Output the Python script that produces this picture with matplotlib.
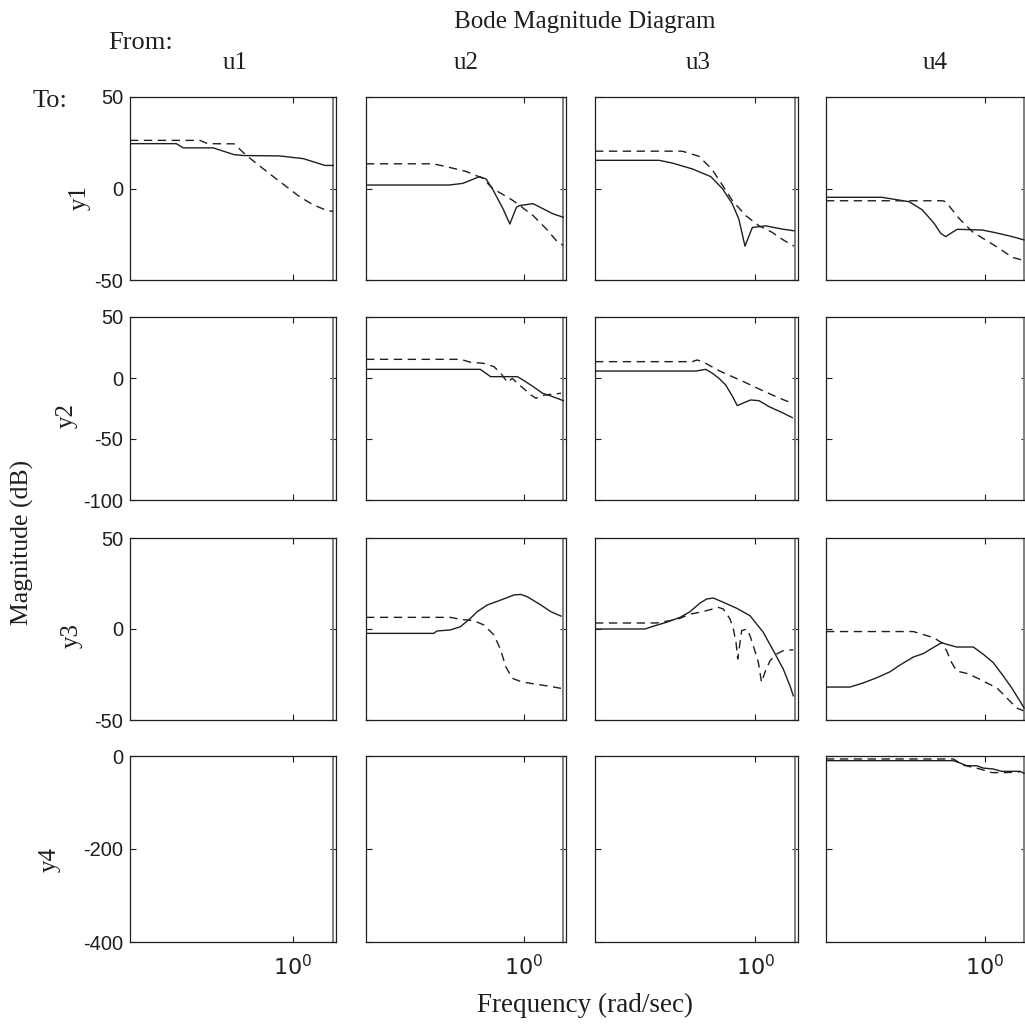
import matplotlib
matplotlib.use("Agg")
import matplotlib.pyplot as plt
import numpy as np

# Bode magnitude (dB), frequency in rad/sec.
# "_s" = solid curve, "_d" = dashed curve, name = y<row>u<col>

w11_s = [0.01, 0.037, 0.045, 0.105, 0.19, 0.25, 0.69, 1.35, 2.48, 3.14]
db11_s = [24.5, 24.5, 22.2, 22.2, 18.5, 18.0, 17.8, 16.3, 12.6, 12.6]
w11_d = [0.01, 0.072, 0.09, 0.19, 0.27, 0.40, 0.575, 0.84, 1.22, 1.78, 2.6, 3.14]
db11_d = [26.3, 26.3, 24.5, 24.4, 18.0, 12.0, 6.5, 0.9, -4.6, -8.9, -12.0, -12.5]

w12_s = [0.01, 0.113, 0.168, 0.273, 0.33, 0.40, 0.54, 0.66, 0.80, 0.88, 1.30, 1.74, 2.34, 3.13]
db12_s = [1.9, 1.9, 2.8, 6.5, 5.2, -0.4, -11.0, -19.4, -10.2, -9.3, -8.3, -11.1, -13.9, -15.7]
w12_d = [0.01, 0.07, 0.103, 0.185, 0.30, 0.40, 0.72, 1.30, 1.92, 2.69, 3.13]
db12_d = [13.5, 13.5, 12.0, 9.3, 5.6, 0.0, -6.5, -14.8, -22.2, -29.6, -31.0]

w13_s = [0.01, 0.063, 0.092, 0.163, 0.277, 0.386, 0.514, 0.62, 0.74, 0.914, 1.34, 2.16, 3.02]
db13_s = [15.4, 15.4, 13.9, 10.7, 6.5, 0.0, -8.3, -16.7, -31.5, -21.3, -20.4, -22.2, -23.1]
w13_d = [0.01, 0.122, 0.198, 0.29, 0.386, 0.514, 0.755, 1.107, 1.62, 2.16, 3.02]
db13_d = [20.4, 20.4, 17.6, 10.2, 1.9, -6.5, -14.8, -20.4, -24.0, -27.8, -31.5]

w14_s = [0.01, 0.05, 0.111, 0.163, 0.229, 0.278, 0.321, 0.371, 0.45, 0.93, 1.37, 2.21, 3.1]
db14_s = [-4.8, -4.8, -7.2, -11.7, -19.0, -24.5, -26.3, -24.5, -22.3, -22.7, -24.2, -26.3, -28.1]
w14_d = [0.01, 0.291, 0.321, 0.472, 0.695, 1.02, 1.51, 2.21, 2.96]
db14_d = [-6.7, -6.7, -7.2, -16.3, -23.6, -28.1, -32.7, -37.6, -39.1]

w22_s = [0.01, 0.28, 0.377, 0.824, 1.0, 1.34, 1.71, 2.19, 3.14]
db22_s = [7.1, 7.1, 1.1, 1.1, -2.2, -7.6, -12.5, -14.8, -18.6]
w22_d = [0.01, 0.157, 0.21, 0.31, 0.416, 0.506, 0.615, 0.71, 0.824, 1.0, 1.22, 1.41, 1.80, 2.93]
db22_d = [15.3, 15.3, 12.9, 12.0, 9.3, 3.9, -3.5, -0.3, -4.4, -9.0, -13.9, -16.6, -14.0, -12.5]

w23_s = [0.01, 0.18, 0.24, 0.29, 0.351, 0.425, 0.514, 0.594, 0.686, 0.871, 1.107, 1.48, 2.16, 2.88]
db23_s = [5.7, 5.7, 7.1, 3.9, -0.3, -5.7, -14.8, -22.7, -20.8, -18.0, -18.6, -23.5, -28.4, -32.5]
w23_d = [0.01, 0.163, 0.188, 0.24, 0.351, 0.514, 0.755, 1.107, 1.62, 2.38, 2.88]
db23_d = [13.4, 13.4, 14.8, 12.0, 6.0, 1.1, -3.8, -9.0, -13.9, -18.6, -20.5]

w32_s = [0.01, 0.072, 0.079, 0.117, 0.157, 0.21, 0.255, 0.342, 0.506, 0.746, 0.908, 1.10, 1.63, 2.18, 2.93]
db32_s = [-2.4, -2.4, -1.1, -0.5, 1.3, 5.9, 9.5, 13.2, 15.9, 18.7, 19.0, 17.7, 13.2, 9.5, 7.1]
w32_d = [0.01, 0.117, 0.157, 0.231, 0.31, 0.416, 0.506, 0.585, 0.711, 0.908, 1.34, 1.98, 2.93]
db32_d = [6.4, 6.4, 5.3, 4.6, 2.2, -3.3, -11.5, -20.7, -27.1, -28.9, -30.2, -31.3, -32.6]

w33_s = [0.01, 0.042, 0.053, 0.078, 0.115, 0.153, 0.204, 0.247, 0.299, 0.397, 0.583, 0.855,
         1.25, 1.67, 2.22, 2.69, 2.96]
db33_s = [0.0, 0.0, 1.5, 3.7, 6.4, 9.5, 14.3, 16.5, 17.0, 14.7, 11.4, 7.3,
          -1.8, -11.9, -22.0, -31.2, -36.7]
w33_d = [0.01, 0.0587, 0.086, 0.115, 0.153, 0.204, 0.271, 0.344, 0.397, 0.482, 0.53, 0.572,
         0.601, 0.673, 0.778, 0.855, 0.94, 1.085, 1.19, 1.31, 1.52, 1.84, 2.22, 2.96]
db33_d = [3.3, 3.3, 4.6, 5.9, 8.2, 9.2, 10.6, 11.9, 11.0, 5.5, 0.0, -7.3,
          -16.5, -0.9, 0.0, -3.7, -9.2, -18.3, -29.3, -23.8, -17.4, -13.7, -11.9, -11.4]

w34_s = [0.01, 0.020, 0.0295, 0.0435, 0.064, 0.0854, 0.1256, 0.168, 0.224, 0.286, 0.33, 0.442,
         0.715, 0.955, 1.276, 1.71, 2.17, 2.77, 3.11]
db34_s = [-31.9, -31.9, -29.6, -26.8, -23.5, -19.8, -15.4, -13.5, -10.2, -7.5, -8.4, -9.9,
          -9.9, -13.9, -18.5, -25.9, -32.3, -39.7, -43.4]
w34_d = [0.01, 0.1256, 0.152, 0.224, 0.286, 0.33, 0.382, 0.442, 0.59, 0.788, 1.054, 1.41,
         1.88, 2.51, 3.05]
db34_d = [-1.4, -1.4, -2.5, -4.7, -7.5, -12.0, -18.5, -23.1, -24.4, -26.8, -29.6, -32.3,
          -37.8, -43.4, -44.9]

w44_s = [0.01, 0.40, 0.486, 0.59, 0.788, 0.955, 1.276, 1.63, 2.77, 3.11]
db44_s = [-10, -10, -15, -21, -21, -26, -28, -33, -33, -37]
w44_d = [0.01, 0.40, 0.536, 0.868, 1.22, 1.88, 2.77]
db44_d = [-6.4, -6.4, -19.6, -28, -35.7, -35.7, -34]

inputs = ["u1", "u2", "u3", "u4"]
outputs = ["y1", "y2", "y3", "y4"]
row_ylim = [(-50, 50), (-100, 50), (-50, 50), (-400, 0)]
row_yticks = [[-50, 0, 50], [-100, -50, 0, 50], [-50, 0, 50], [-400, -200, 0]]
xtick_vals = [1.0]
xtick_text = [r"$\mathregular{10^{0}}$"]

curves = {
    (0, 0): (w11_s, db11_s, w11_d, db11_d),
    (0, 1): (w12_s, db12_s, w12_d, db12_d),
    (0, 2): (w13_s, db13_s, w13_d, db13_d),
    (0, 3): (w14_s, db14_s, w14_d, db14_d),
    (1, 1): (w22_s, db22_s, w22_d, db22_d),
    (1, 2): (w23_s, db23_s, w23_d, db23_d),
    (2, 1): (w32_s, db32_s, w32_d, db32_d),
    (2, 2): (w33_s, db33_s, w33_d, db33_d),
    (2, 3): (w34_s, db34_s, w34_d, db34_d),
    (3, 3): (w44_s, db44_s, w44_d, db44_d),
}

plt.rcParams['mathtext.fontset'] = 'custom'
plt.rcParams['mathtext.rm'] = 'Liberation Sans'
SERIF = 'Liberation Serif'
SANS = 'Liberation Sans'

W, H = 1025, 1032
fig = plt.figure(figsize=(W / 100, H / 100), dpi=100)

# axes boxes in pixels (left, right) / (top, bottom)
col_px = [(130, 336), (366, 566), (595, 798), (826, 1027)]
row_px = [(97, 280), (317, 500), (538, 720), (756, 942)]
ink = '0.12'

for r in range(4):
    for c in range(4):
        x0, x1 = col_px[c]
        t, b = row_px[r]
        ax = fig.add_axes([x0 / W, 1 - b / H, (x1 - x0) / W, (b - t) / H])
        ax.set_xscale('log')
        ax.set_xlim(0.01, 10 ** 0.53)
        ax.set_ylim(*row_ylim[r])
        ax.set_yticks(row_yticks[r])
        ax.set_xticks(xtick_vals)
        ax.xaxis.set_minor_locator(matplotlib.ticker.NullLocator())
        ax.tick_params(direction='in', length=4, width=0.8, color=ink,
                       top=True, right=True, labelsize=14.5, labelcolor=ink)
        ax.tick_params(axis='x', pad=9)
        ax.tick_params(axis='y', pad=5)
        for sp in ax.spines.values():
            sp.set_linewidth(0.9)
            sp.set_color(ink)
        if c == 0:
            ax.set_yticklabels([str(v) for v in row_yticks[r]], fontfamily=SANS)
        else:
            ax.set_yticklabels([])
        if r == 3:
            ax.set_xticklabels(xtick_text, fontsize=16)
        else:
            ax.set_xticklabels([])
        # Nyquist frequency marker
        ax.axvline(np.pi, color='0.5', lw=1.4)
        if (r, c) in curves:
            ws, ds, wd, dd = curves[(r, c)]
            ax.plot(ws, ds, color=ink, lw=1.0)
            ax.plot(wd, dd, color=ink, lw=1.0, linestyle=(0, (6, 4)))

def ftext(x, y, s, **kw):
    fig.text(x / W, 1 - y / H, s, ha='center', va='center', color=ink, **kw)

ftext(585, 22, "Bode Magnitude Diagram", fontsize=18, family=SERIF)
ftext(141, 43, "From:", fontsize=19, family=SERIF)
for name, xc in zip(inputs, [235, 466, 698, 935]):
    ftext(xc, 63, name, fontsize=18, family=SERIF)
ftext(50, 101, "To:", fontsize=19, family=SERIF)
for name, (xc, yc) in zip(outputs, [(80, 198), (67, 415), (72, 635), (50, 860)]):
    ftext(xc, yc, name, fontsize=18, family=SERIF, rotation=90)
ftext(22, 542, "Magnitude (dB)", fontsize=18.5, family=SERIF, rotation=90)
ftext(585, 1005, "Frequency (rad/sec)", fontsize=19.5, family=SERIF)

fig.savefig("out.png", dpi=100)
